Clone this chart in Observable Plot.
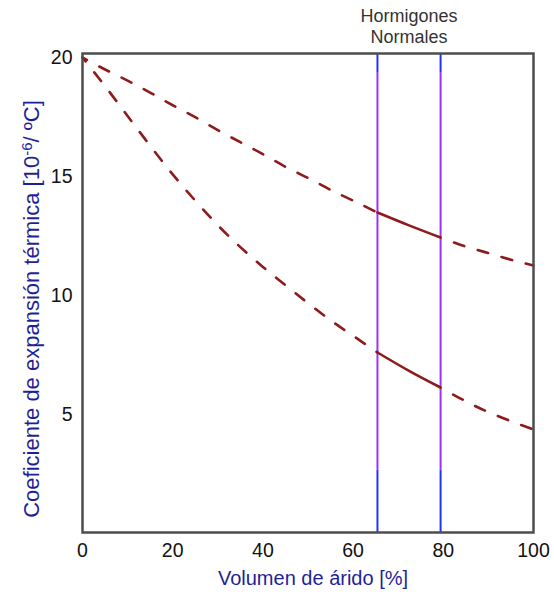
<!DOCTYPE html>
<html><head><meta charset="utf-8">
<script src="https://cdn.jsdelivr.net/npm/d3@7"></script>
<script src="https://cdn.jsdelivr.net/npm/@observablehq/plot@0.6"></script>
<style>body{margin:0;background:#fff} svg{display:block}</style>
</head><body><div id="chart"></div>
<script>
const xTicks = [0, 20, 40, 60, 80, 100];
const yTicks = [5, 10, 15, 20];
const normalRange = [65.4, 79.4];
const colorBreaksY = [20.17, 19.37, 2.7, 0.08];
const curveX = [0, 5, 10, 15, 20, 25, 30, 35, 40, 45, 50, 55, 60, 65.4, 72.4, 79.4, 85, 90, 95, 100];
const upperY = [20, 19.5, 19.03, 18.53, 18.0, 17.5, 16.96, 16.45, 15.95, 15.42, 14.95, 14.45, 14.0, 13.5, 12.96, 12.45, 12.07, 11.8, 11.52, 11.28];
const lowerY = [20, 18.8, 17.55, 16.3, 15.1, 14.0, 12.97, 12.05, 11.22, 10.45, 9.7, 8.98, 8.33, 7.63, 6.86, 6.16, 5.58, 5.13, 4.75, 4.4];
const titleLines = "Hormigones\nNormales";
const xLabel = "Volumen de árido [%]";
const yLabelParts = ["Coeficiente de expansión térmica [10", "-6", "/ ºC]"];

const curveColor = "#8e1b1b";
const rows = [];
curveX.forEach((x, i) => {
  rows.push({x, y: upperY[i], s: "upper"});
  rows.push({x, y: lowerY[i], s: "lower"});
});
const [a, b] = normalRange;
const left = rows.filter(d => d.x <= a);
const mid = rows.filter(d => d.x >= a && d.x <= b);
const right = rows.filter(d => d.x >= b);

const rules = [];
normalRange.forEach(x => {
  rules.push({x, y1: colorBreaksY[0], y2: colorBreaksY[1], c: "#2233ff"});
  rules.push({x, y1: colorBreaksY[1], y2: colorBreaksY[2], c: "#9933ff"});
  rules.push({x, y1: colorBreaksY[2], y2: colorBreaksY[3], c: "#2233ff"});
});

const font = "'Liberation Sans', Arial, sans-serif";
const chart = Plot.plot({
  width: 554, height: 594,
  marginLeft: 82, marginRight: 21, marginTop: 53, marginBottom: 62,
  style: {fontFamily: font, fontSize: "19.5px", color: "#111", background: "#fff"},
  x: {domain: [0, 100], ticks: xTicks, tickSize: 0, tickPadding: 11, label: null},
  y: {domain: [colorBreaksY[3], colorBreaksY[0]], ticks: yTicks, tickSize: 0, tickPadding: 10, label: null},
  marks: [
    Plot.ruleX(rules, {x: "x", y1: "y1", y2: "y2", stroke: "c", strokeWidth: 2}),
    Plot.line(left, {x: "x", y: "y", z: "s", stroke: curveColor, strokeWidth: 2.6, strokeDasharray: "11,14", strokeDashoffset: 6, curve: "natural"}),
    Plot.line(mid, {x: "x", y: "y", z: "s", stroke: curveColor, strokeWidth: 2.6, curve: "natural"}),
    Plot.line(right, {x: "x", y: "y", z: "s", stroke: curveColor, strokeWidth: 2.6, strokeDasharray: "11,14", strokeDashoffset: 11, curve: "natural"}),
    Plot.frame({stroke: "#4d4d4d", strokeWidth: 2.5}),
    Plot.text([titleLines], {x: () => (a + b) / 2, frameAnchor: "top", dy: -28, lineAnchor: "middle", lineHeight: 1.17, fontSize: 18, fill: "#333", text: d => d})
  ]
});
document.getElementById("chart").appendChild(chart);

const svg = d3.select(chart);
svg.append("text")
  .attr("x", 313).attr("y", 585)
  .attr("text-anchor", "middle")
  .attr("fill", "#1f1f99")
  .style("font-family", font).style("font-size", "20px")
  .text(xLabel);
const yl = svg.append("text")
  .attr("transform", "translate(39,309) rotate(-90)")
  .attr("text-anchor", "middle")
  .attr("fill", "#1f1f99")
  .style("font-family", font).style("font-size", "22px");
yl.append("tspan").text(yLabelParts[0]);
yl.append("tspan").attr("dy", "-0.5em").style("font-size", "15px").text(yLabelParts[1]);
yl.append("tspan").attr("dy", "0.35em").text(yLabelParts[2]);
</script>
</body></html>
